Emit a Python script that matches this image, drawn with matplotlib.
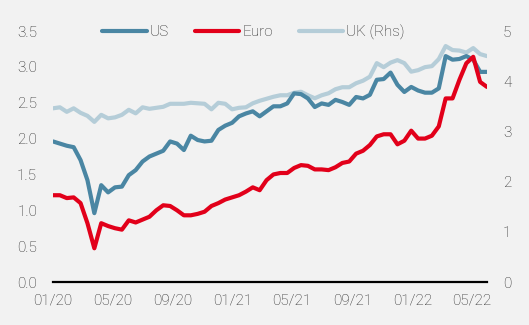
import matplotlib
matplotlib.use("Agg")
import matplotlib.pyplot as plt
import pandas as pd

plt.rcParams['font.family'] = ['Roboto', 'DejaVu Sans']
plt.rcParams['font.weight'] = 'light'

# datos quincenales
fechas = pd.date_range('2020-01-01', periods=64, freq='14D')

us = [1.96, 1.93, 1.90, 1.88, 1.70, 1.42, 0.96, 1.35, 1.25, 1.32,
      1.33, 1.49, 1.56, 1.68, 1.75, 1.79, 1.83, 1.96, 1.93, 1.84,
      2.04, 1.98, 1.96, 1.97, 2.12, 2.18, 2.22, 2.31, 2.35, 2.38,
      2.31, 2.38, 2.45, 2.45, 2.49, 2.63, 2.62, 2.56, 2.44, 2.49,
      2.47, 2.54, 2.51, 2.47, 2.58, 2.56, 2.61, 2.82, 2.83, 2.92,
      2.75, 2.65, 2.72, 2.67, 2.64, 2.64, 2.70, 3.15, 3.10, 3.11,
      3.15, 3.10, 2.93, 2.93]

euro = [1.21, 1.21, 1.17, 1.18, 1.10, 0.82, 0.47, 0.82, 0.78, 0.75,
        0.73, 0.86, 0.83, 0.87, 0.91, 1.00, 1.07, 1.06, 1.00, 0.93,
        0.93, 0.95, 0.98, 1.06, 1.10, 1.15, 1.18, 1.21, 1.26, 1.32,
        1.28, 1.42, 1.50, 1.52, 1.52, 1.59, 1.63, 1.62, 1.57, 1.57,
        1.56, 1.60, 1.66, 1.68, 1.79, 1.83, 1.91, 2.03, 2.06, 2.06,
        1.92, 1.97, 2.11, 2.00, 2.00, 2.04, 2.17, 2.56, 2.56, 2.82,
        3.05, 3.14, 2.79, 2.72]

uk = [3.46, 3.48, 3.39, 3.46, 3.37, 3.31, 3.19, 3.33, 3.26, 3.28,
      3.33, 3.43, 3.36, 3.48, 3.45, 3.47, 3.49, 3.55, 3.55, 3.55,
      3.57, 3.56, 3.55, 3.44, 3.57, 3.55, 3.44, 3.47, 3.48, 3.56,
      3.61, 3.65, 3.69, 3.72, 3.72, 3.77, 3.79, 3.72, 3.66, 3.72,
      3.76, 3.84, 3.88, 3.88, 3.96, 4.01, 4.09, 4.36, 4.28, 4.37,
      4.42, 4.36, 4.19, 4.22, 4.28, 4.30, 4.44, 4.70, 4.62, 4.61,
      4.57, 4.66, 4.54, 4.50]

etiquetas_x = ['01/20', '05/20', '09/20', '01/21', '05/21', '09/21', '01/22', '05/22']
ticks_x = pd.to_datetime(['2020-01-01', '2020-05-01', '2020-09-01', '2021-01-01',
                          '2021-05-01', '2021-09-01', '2022-01-01', '2022-05-01'])

fondo = '#f2f2f2'
texto = '#262626'
c_us = '#4a86a3'
c_euro = '#e2001a'
c_uk = '#b5cdd8'

fig = plt.figure(figsize=(5.29, 3.25), dpi=100, facecolor=fondo)
ax = fig.add_axes([0.1002, 0.1323, 0.8204, 0.7723])
ax2 = ax.twinx()
ax.set_zorder(ax2.get_zorder() + 1)
ax.patch.set_visible(False)
ax2.set_facecolor(fondo)

estilo = dict(linewidth=3.0, solid_capstyle='round', solid_joinstyle='round')
l_uk, = ax2.plot(fechas, uk, color=c_uk, label='UK (Rhs)', **estilo)
l_us, = ax.plot(fechas, us, color=c_us, label='US', **estilo)
l_eu, = ax.plot(fechas, euro, color=c_euro, label='Euro', **estilo)

ax.set_xlim(pd.Timestamp('2020-01-01'), pd.Timestamp('2022-06-01'))
ax.set_ylim(0, 3.5)
ax2.set_ylim(0, 5)
ax.set_yticks([0, 0.5, 1, 1.5, 2, 2.5, 3, 3.5])
ax.set_yticklabels(['0.0', '0.5', '1.0', '1.5', '2.0', '2.5', '3.0', '3.5'])
ax2.set_yticks([0, 1, 2, 3, 4, 5])
ax.set_xticks(ticks_x)
ax.set_xticklabels(etiquetas_x)

for a in (ax, ax2):
    for s in a.spines.values():
        s.set_visible(False)
ax.spines['bottom'].set_visible(True)
ax.spines['bottom'].set_color('black')
ax.spines['bottom'].set_linewidth(1.6)

ax.tick_params(axis='y', length=0, pad=11.5, labelsize=11, colors=texto)
ax.tick_params(axis='x', length=0, pad=8, labelsize=11, colors=texto)
ax2.tick_params(axis='y', length=0, pad=11.5, labelsize=11, colors=texto)

ax.legend(handles=[l_us, l_eu, l_uk], loc='center', bbox_to_anchor=(0.462, 0.996),
          ncol=3, frameon=False, fontsize=11, handlelength=2.9, handletextpad=0.2,
          columnspacing=1.7, labelcolor=texto)

fig.savefig('out.png', dpi=100, facecolor=fondo)
